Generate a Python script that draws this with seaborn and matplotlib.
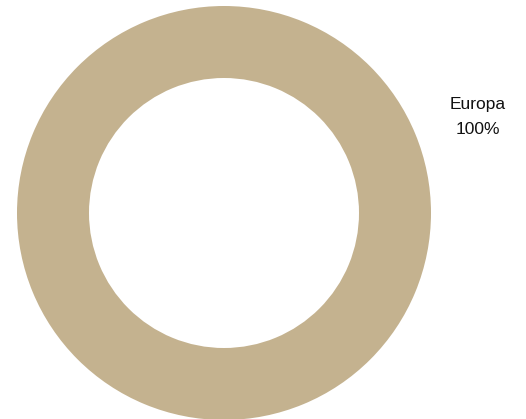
import matplotlib
matplotlib.use("Agg")
import matplotlib.pyplot as plt
import seaborn as sns

sns.set_style("white")

categories = ["Europa"]
values = [100]
pct_labels = ["100%"]
colors = ["#C4B28F"]

fam = ["Liberation Sans Narrow", "Liberation Sans", "DejaVu Sans"]

fig = plt.figure(figsize=(5.26, 4.19), dpi=100)
ax = fig.add_axes([0, 0, 1, 1])

ax.pie(values, colors=colors, radius=207, center=(224, 206),
       startangle=90, counterclock=False, frame=True,
       wedgeprops=dict(width=72, edgecolor="none", linewidth=0))
ax.set_xlim(0, 526)
ax.set_ylim(0, 419)
ax.set_aspect("equal")
ax.axis("off")

ax.text(478, 315, categories[0], ha="center", va="center",
        fontsize=12.5, family=fam, color="#111111")
ax.text(478, 289, pct_labels[0], ha="center", va="center",
        fontsize=12.5, family=fam, color="#111111")

fig.savefig("out.png", dpi=100)
